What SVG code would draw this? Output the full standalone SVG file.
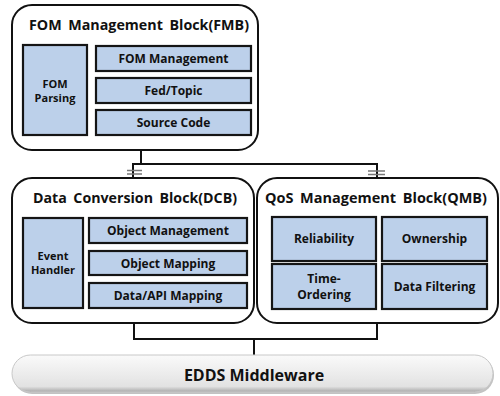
<svg xmlns="http://www.w3.org/2000/svg" width="500" height="396" viewBox="0 0 500 396">
<defs>
<linearGradient id="pill" x1="0" y1="0" x2="0" y2="1">
<stop offset="0" stop-color="#fafafa"/>
<stop offset="0.5" stop-color="#ececec"/>
<stop offset="0.85" stop-color="#e2e2e2"/>
<stop offset="1" stop-color="#a8a8a8"/>
</linearGradient>
<style>
.blk{fill:#fff;stroke:#111;stroke-width:2}
.box{fill:#bcd0ea;stroke:#151515;stroke-width:2.2}
.t{font-family:"Open Sans","Noto Sans",sans-serif;font-weight:bold;fill:#111;white-space:pre}
.ttl{font-size:15px;word-spacing:3px}
.lbl{font-size:12px;text-anchor:middle}
.sm{font-size:11px;text-anchor:middle}
.ln{fill:none;stroke:#111;stroke-width:2}
.eq{stroke:#777;stroke-width:1.5}
</style>
</defs>
<g id="connectors">
<polyline class="ln" points="141,150 141,164"/>
<polyline class="ln" points="133,178 133,164 377,164 377,178"/>
<line class="eq" x1="127" y1="170.5" x2="142" y2="170.5"/>
<line class="eq" x1="127" y1="174" x2="142" y2="174"/>
<line class="eq" x1="368" y1="171" x2="385" y2="171"/>
<line class="eq" x1="368" y1="174.5" x2="385" y2="174.5"/>
<polyline class="ln" points="134,323 134,339 377,339 377,323"/>
<polyline class="ln" points="254,339 254,355"/>
</g>
<g id="fmb">
<rect class="blk" x="12" y="5" width="246" height="145" rx="20"/>
<text class="t ttl" x="29" y="30" textLength="220" lengthAdjust="spacingAndGlyphs">FOM Management Block(FMB)</text>
</g>
<g id="fom-parsing">
<rect class="box" x="23" y="45" width="64" height="90"/>
<text class="t sm" x="55" y="88">FOM</text>
<text class="t sm" x="55" y="102">Parsing</text>
</g>
<g id="fom-management">
<rect class="box" x="96" y="46" width="155" height="25"/>
<text class="t lbl" x="173.5" y="63">FOM Management</text>
</g>
<g id="fed-topic">
<rect class="box" x="96" y="78" width="155" height="25"/>
<text class="t lbl" x="173.5" y="95">Fed/Topic</text>
</g>
<g id="source-code">
<rect class="box" x="96" y="110" width="155" height="25"/>
<text class="t lbl" x="173.5" y="127">Source Code</text>
</g>
<g id="dcb">
<rect class="blk" x="12" y="178" width="242" height="145" rx="20"/>
<text class="t ttl" x="33" y="203" textLength="204" lengthAdjust="spacingAndGlyphs">Data Conversion Block(DCB)</text>
</g>
<g id="event-handler">
<rect class="box" x="23" y="218" width="60" height="90"/>
<text class="t sm" x="53" y="260">Event</text>
<text class="t sm" x="53" y="274">Handler</text>
</g>
<g id="object-management">
<rect class="box" x="89" y="218" width="158" height="25"/>
<text class="t lbl" x="168" y="235">Object Management</text>
</g>
<g id="object-mapping">
<rect class="box" x="89" y="251" width="158" height="24"/>
<text class="t lbl" x="168" y="267.5">Object Mapping</text>
</g>
<g id="data-api-mapping">
<rect class="box" x="89" y="283" width="158" height="25"/>
<text class="t lbl" x="168" y="300">Data/API Mapping</text>
</g>
<g id="qmb">
<rect class="blk" x="257" y="178" width="241" height="145" rx="20"/>
<text class="t ttl" x="265" y="203" textLength="222" lengthAdjust="spacingAndGlyphs">QoS Management Block(QMB)</text>
</g>
<g id="reliability">
<rect class="box" x="272" y="217" width="104" height="44"/>
<text class="t lbl" x="324" y="243">Reliability</text>
</g>
<g id="ownership">
<rect class="box" x="382" y="217" width="105" height="44"/>
<text class="t lbl" x="434.5" y="243">Ownership</text>
</g>
<g id="time-ordering">
<rect class="box" x="272" y="264" width="104" height="45"/>
<text class="t lbl" x="324" y="283">Time-</text>
<text class="t lbl" x="324" y="299">Ordering</text>
</g>
<g id="data-filtering">
<rect class="box" x="382" y="264" width="105" height="45"/>
<text class="t lbl" x="434.5" y="291">Data Filtering</text>
</g>
<g id="edds">
<rect x="13" y="356" width="481" height="38" rx="19" fill="#9a9a9a" opacity="0.6"/>
<rect x="12" y="355" width="481" height="37" rx="18.5" fill="url(#pill)" stroke="#c8c8c8" stroke-width="1"/>
<text class="t" x="254" y="381" font-size="16" text-anchor="middle">EDDS Middleware</text>
</g>
</svg>
